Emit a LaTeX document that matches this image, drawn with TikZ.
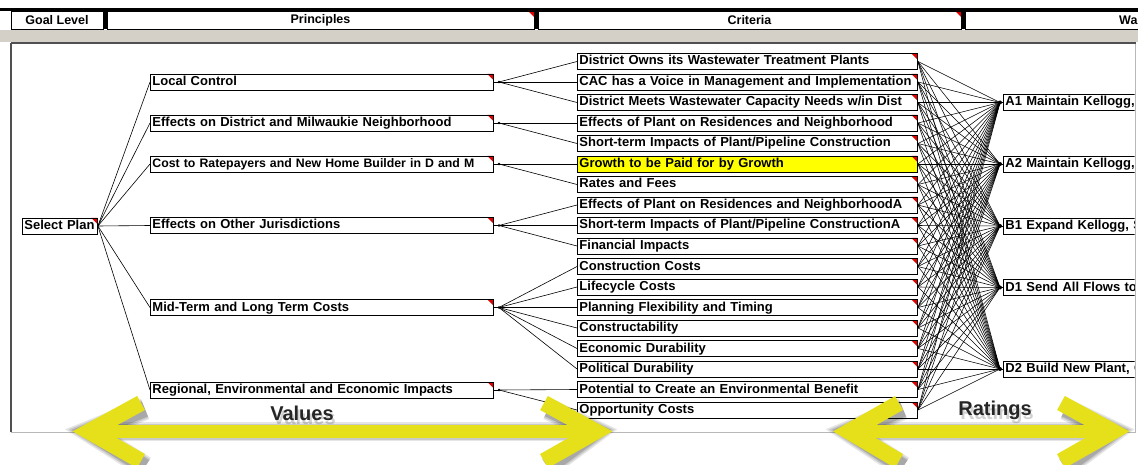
\documentclass[tikz,border=0pt]{standalone}
\usepackage{fontspec}
\setmainfont{Liberation Sans}
\definecolor{bandgray}{HTML}{D4D0C8}
\definecolor{framedark}{HTML}{505050}
\definecolor{framelight}{HTML}{B8B8B8}
\definecolor{cornerred}{HTML}{E00000}
\definecolor{hilite}{HTML}{FFFF00}
\definecolor{bigyellow}{HTML}{E6E01A}
\tikzset{
  corner/.style={path picture={\fill[cornerred] (path picture bounding box.north east)
      -- ++(-6pt,0pt) -- ++(6pt,-6pt) -- cycle;}},
  box/.style={draw=black, line width=0.9pt, fill=white, rectangle, anchor=west,
    inner xsep=2pt, inner ysep=0pt, minimum height=16pt, align=left,
    text height=9.5pt, text depth=2.5pt,
    font=\fontsize{13}{13}\selectfont\bfseries},
  goalbox/.style={box, corner, text width=71pt},
  princbox/.style={box, corner, text width=339pt},
  critbox/.style={box, corner, text width=336pt},
  altbox/.style={box, text width=220pt},
  hdrcell/.style={draw=black, line width=0.8pt, fill=white, rectangle, inner sep=0pt,
    minimum height=18.5pt, font=\fontsize{12.5}{12.5}\selectfont\bfseries},
  wire/.style={draw=black, line width=0.6pt},
  hub/.style={fill=black},
  shaft/.style={line width=13pt, line cap=butt},
  arm/.style={line width=16pt, line cap=butt, line join=miter},
  biglabel/.style={font=\fontsize{20}{20}\selectfont\bfseries},
}
\begin{document}
\begin{tikzpicture}[x=1pt,y=-1pt]
\useasboundingbox (0,0) rectangle (1138,465);
\fill[white] (0,0) rectangle (1138,465);

% ---- column header bar ----
\fill[black] (0,8.5) rectangle (1138,11);
\fill[bandgray] (0,30) rectangle (1138,42.5);
\begin{scope}
  \clip (0,0) rectangle (1138,465);
  \node[hdrcell, minimum width=92pt] (hgoal) at (57,20.25) {Goal Level};
  \node[hdrcell, corner, minimum width=427pt] (hprin) at (320.5,20.25) {Principles};
  \node[hdrcell, corner, minimum width=423pt] (hcrit) at (749.5,20.25) {Criteria};
  \node[hdrcell, anchor=west, minimum width=240pt] (halt) at (965,20.25) {};
  \node[font=\fontsize{12.5}{12.5}\selectfont\bfseries, anchor=west, inner sep=0pt]
    (haltlabel) at (1119,20.5) {Was};
\end{scope}
\fill[black] (103,11) rectangle (107,29.5);
\fill[black] (534,11) rectangle (538,29.5);
\fill[black] (961,11) rectangle (965,29.5);

% ---- panel frame ----
\draw[framedark, line width=2pt] (1136,43.5) -- (11,43.5);
\draw[framedark, line width=1.5pt] (11,43.5) -- (11,432);
\draw[framelight, line width=1pt] (11,432) -- (1135.5,432) -- (1135.5,44);

% ---- goal ----
\node[goalbox] (sp) at (22,226) {Select Plan};

% ---- principles ----
\node[princbox] (lc)   at (150,82)    {Local Control};
\node[princbox] (edm)  at (150,123)   {Effects on District and Milwaukie Neighborhood};
\node[princbox, font=\fontsize{12.3}{13}\selectfont\bfseries] (cost) at (150,164)
  {\mbox{Cost to Ratepayers and New Home Builder in D and M}};
\node[princbox] (eoj)  at (150,225.5) {Effects on Other Jurisdictions};
\node[princbox] (mid)  at (150,307.5) {Mid-Term and Long Term Costs};
\node[princbox] (reg)  at (150,390)   {Regional, Environmental and Economic Impacts};

% ---- criteria ----
\node[critbox] (c1)  at (577,61.5)  {District Owns its Wastewater Treatment Plants};
\node[critbox] (c2)  at (577,82)    {\mbox{CAC has a Voice in Management and Implementation}};
\node[critbox] (c3)  at (577,102.5) {\mbox{District Meets Wastewater Capacity Needs w/in Dist}};
\node[critbox] (c4)  at (577,123)   {Effects of Plant on Residences and Neighborhood};
\node[critbox] (c5)  at (577,143.5) {Short-term Impacts of Plant/Pipeline Construction};
\node[critbox, fill=hilite] (c6) at (577,164) {Growth to be Paid for by Growth};
\node[critbox] (c7)  at (577,184.5) {Rates and Fees};
\node[critbox] (c8)  at (577,205)   {\mbox{Effects of Plant on Residences and NeighborhoodA}};
\node[critbox] (c9)  at (577,225.5) {\mbox{Short-term Impacts of Plant/Pipeline ConstructionA}};
\node[critbox] (c10) at (577,246)   {Financial Impacts};
\node[critbox] (c11) at (577,266.5) {Construction Costs};
\node[critbox] (c12) at (577,287)   {Lifecycle Costs};
\node[critbox] (c13) at (577,307.5) {Planning Flexibility and Timing};
\node[critbox] (c14) at (577,328)   {Constructability};
\node[critbox] (c15) at (577,348.5) {Economic Durability};
\node[critbox] (c16) at (577,369)   {Political Durability};
\node[critbox] (c17) at (577,389.5) {Potential to Create an Environmental Benefit};
\node[critbox] (c18) at (577,410)   {Opportunity Costs};

% ---- alternatives (cut off by the panel edge) ----
\begin{scope}
  \clip (0,0) rectangle (1134.5,465);
  \node[altbox] (a1) at (1003,102.5) {A1 Maintain Kellogg, S};
  \node[altbox] (a2) at (1003,164)   {A2 Maintain Kellogg, S};
  \node[altbox] (b1) at (1003,226)   {B1 Expand Kellogg, Se};
  \node[altbox] (d1) at (1003,287.5) {D1 Send All Flows to T};
  \node[altbox] (d2) at (1003,369)   {D2 Build New Plant, Cl};
\end{scope}

% ---- goal to principles ----
\foreach \p in {lc,edm,cost,eoj,mid,reg}
  \draw[wire] (sp.east) -- (\p.west);

% ---- principles to criteria ----
\foreach \p in {lc,edm,cost,eoj,mid,reg} {
  \path (\p.east) ++(5pt,0pt) coordinate (\p-out);
  \draw[wire] (\p.east) -- (\p-out);
  \fill[hub] (\p-out) circle (1.4pt);
}
\foreach \c in {1,2,3}            \draw[wire] (lc-out)   -- (c\c.west);
\foreach \c in {4,5}              \draw[wire] (edm-out)  -- (c\c.west);
\foreach \c in {6,7}              \draw[wire] (cost-out) -- (c\c.west);
\foreach \c in {8,9,10}           \draw[wire] (eoj-out)  -- (c\c.west);
\foreach \c in {11,...,16}        \draw[wire] (mid-out)  -- (c\c.west);
\foreach \c in {17,18}            \draw[wire] (reg-out)  -- (c\c.west);

% ---- criteria to alternatives (every pair) ----
\foreach \a in {a1,a2,b1,d1,d2} {
  \path (\a.west) ++(-3pt,0pt) coordinate (\a-in);
  \foreach \c in {1,...,18}
    \draw[wire, line width=0.55pt] (c\c.east) -- (\a-in);
  \draw[wire] (\a-in) -- (\a.west);
  \fill[hub] (\a-in) circle (2pt);
}

% ---- big double arrows with soft shadows ----
\coordinate (vL1) at (89,431.5);  \coordinate (vR1) at (596,431.5);
\coordinate (vL2) at (849,431.5); \coordinate (vR2) at (1113,431.5);
\foreach \w/\o in {6/0.10,3/0.12,0/0.16} {
  \begin{scope}[shift={(4pt,-6pt)}, draw=black, opacity=\o]
    \draw[shaft, line width=13pt+\w pt] (vL1) -- (vR1);
    \draw[arm, line width=16pt+\w pt] (141,403) -- (vL1) -- (141,461);
    \draw[arm, line width=16pt+\w pt] (544,403) -- (vR1) -- (544,461);
    \draw[shaft, line width=13pt+\w pt] (vL2) -- (vR2);
    \draw[arm, line width=16pt+\w pt] (899,403) -- (vL2) -- (899,461);
    \draw[arm, line width=16pt+\w pt] (1061,403) -- (vR2) -- (1061,461);
  \end{scope}
}
\draw[shaft, bigyellow] (vL1) -- (vR1);
\draw[arm, bigyellow] (141,403) -- (vL1) -- (141,461);
\draw[arm, bigyellow] (544,403) -- (vR1) -- (544,461);
\draw[shaft, bigyellow] (vL2) -- (vR2);
\draw[arm, bigyellow] (899,403) -- (vL2) -- (899,461);
\draw[arm, bigyellow] (1061,403) -- (vR2) -- (1061,461);

% ---- arrow captions with a soft drop shadow ----
\node[biglabel, text=black, opacity=0.18] (valshadow) at (304,417) {Values};
\node[biglabel, text=black!85] (values) at (302,413) {Values};
\node[biglabel, text=black, opacity=0.18] (ratshadow) at (997,414) {Ratings};
\node[biglabel, text=black!85] (ratings) at (995,410) {Ratings};
\end{tikzpicture}
\end{document}
